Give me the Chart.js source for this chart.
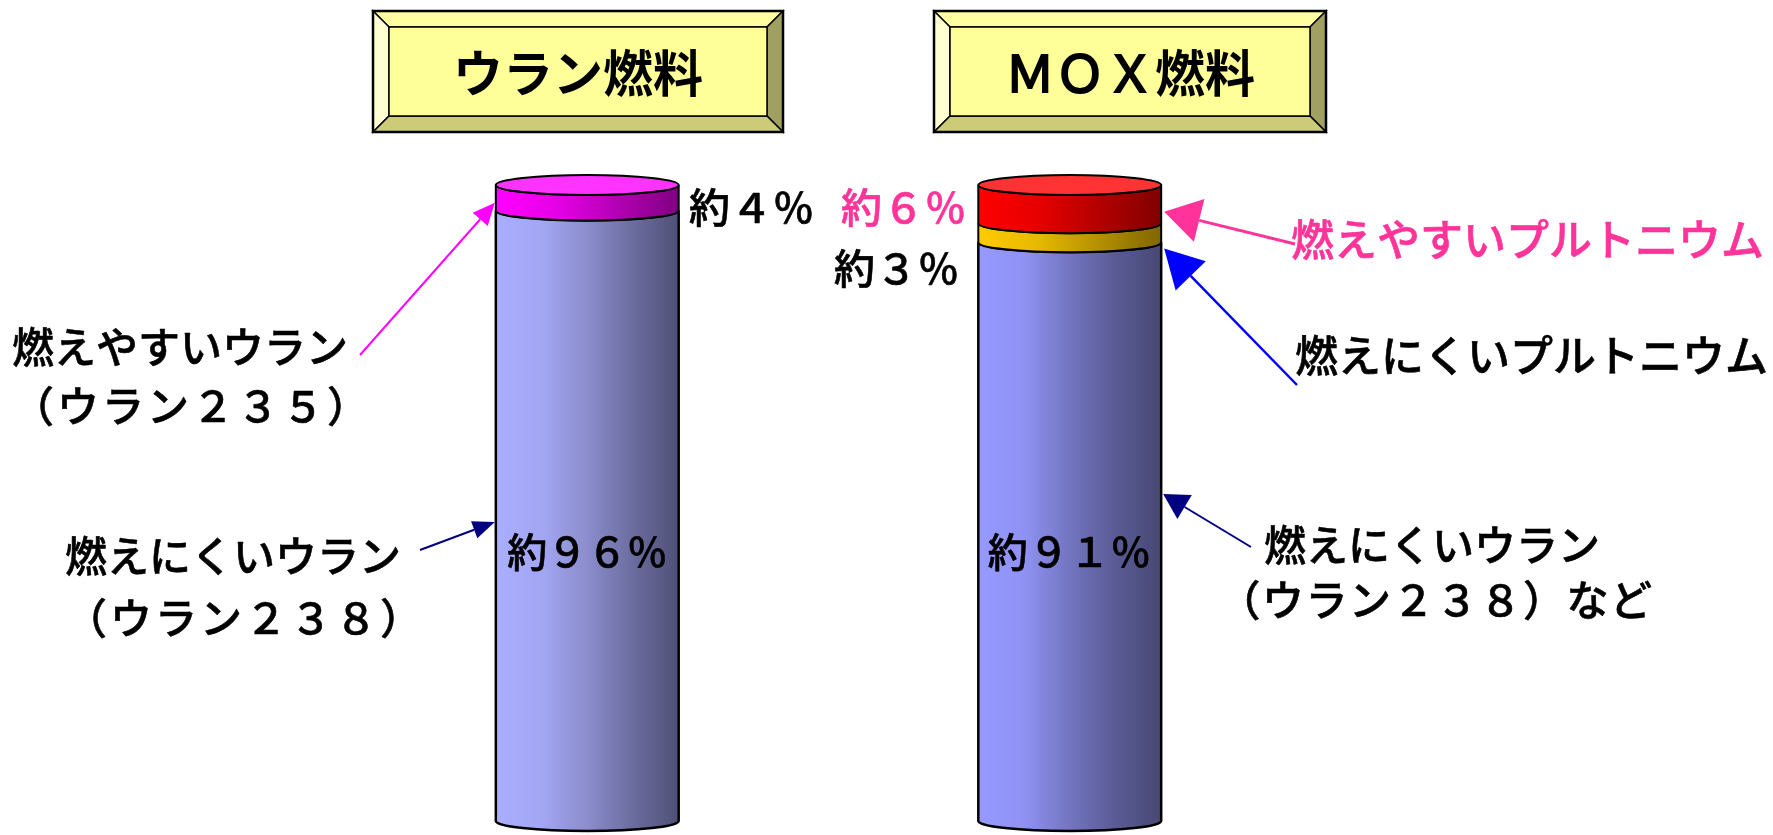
<!DOCTYPE html>
<html lang="ja">
<head>
<meta charset="UTF-8">
<title>ウラン燃料とMOX燃料</title>
<script src="https://cdn.jsdelivr.net/npm/chart.js"></script>
<style>
  body { margin: 0; background: #fff; }
  .chart-wrapper { position: relative; width: 1773px; height: 835px; }
</style>
</head>
<body>
<div class="chart-wrapper"><canvas id="fuelChart"></canvas></div>
<script>
// data
const fuels = ['ウラン燃料', 'ＭＯＸ燃料'];
const hardUranium = [96, 91];   // 燃えにくいウラン（ウラン２３８）
const hardPlutonium = [0, 3];   // 燃えにくいプルトニウム
const fissile = [4, 6];         // 燃えやすいウラン / 燃えやすいプルトニウム

const JP = '"Noto Sans CJK JP", "Noto Sans", sans-serif';
const RY = 10; // ellipse half height of the cylinders

function fullWidth(n) {
    return String(n).replace(/[0-9]/g, d => String.fromCharCode(d.charCodeAt(0) + 0xFEE0));
}
function approx(n) { return '約' + fullWidth(n) + '％'; }

// draws each stack as a shaded cylinder using the bar elements' geometry
const cylinderPlugin = {
    id: 'cylinders',
    afterDatasetsDraw(chart) {
        const ctx = chart.ctx;
        ctx.save();
        chart.data.labels.forEach((lbl, i) => {
            let topY = null, topColor = null, cx = 0, rx = 0;
            chart.data.datasets.forEach((ds, d) => {
                if (!ds.data[i]) return;
                const bar = chart.getDatasetMeta(d).data[i];
                cx = bar.x; rx = bar.width / 2;
                const yTop = bar.y, yBot = bar.base;
                const g = ctx.createLinearGradient(cx - rx, 0, cx + rx, 0);
                const stops = ds.sideColors[i];
                stops.forEach((c, k) => g.addColorStop(k / (stops.length - 1), c));
                ctx.beginPath();
                ctx.moveTo(cx - rx, yTop);
                ctx.lineTo(cx - rx, yBot);
                ctx.ellipse(cx, yBot, rx, RY, 0, Math.PI, 0, true);
                ctx.lineTo(cx + rx, yTop);
                ctx.ellipse(cx, yTop, rx, RY, 0, 0, Math.PI, false);
                ctx.closePath();
                ctx.fillStyle = g;
                ctx.fill();
                ctx.lineWidth = d === 0 ? 2.5 : 2;
                ctx.strokeStyle = '#000';
                ctx.stroke();
                topY = yTop; topColor = ds.topColors[i];
            });
            ctx.beginPath();
            ctx.ellipse(cx, topY, rx, RY, 0, 0, Math.PI * 2);
            ctx.fillStyle = topColor;
            ctx.fill();
            ctx.lineWidth = 2;
            ctx.stroke();
        });
        ctx.restore();
    }
};

function bevelBox(ctx, x, y, w, h, b, text) {
    const xi = x + b, yi = y + b, xr = x + w - b, yb = y + h - b;
    const faces = [
        ['#ffffa0', [[x, y], [x + w, y], [xr, yi], [xi, yi]]],
        ['#ffffd2', [[x, y], [xi, yi], [xi, yb], [x, y + h]]],
        ['#a0a062', [[x + w, y], [x + w, y + h], [xr, yb], [xr, yi]]],
        ['#cccc78', [[x, y + h], [xi, yb], [xr, yb], [x + w, y + h]]]
    ];
    ctx.lineWidth = 1.5;
    ctx.strokeStyle = '#000';
    faces.forEach(([col, pts]) => {
        ctx.beginPath();
        pts.forEach((p, k) => k ? ctx.lineTo(p[0], p[1]) : ctx.moveTo(p[0], p[1]));
        ctx.closePath();
        ctx.fillStyle = col;
        ctx.fill();
        ctx.stroke();
    });
    ctx.fillStyle = '#ffff99';
    ctx.fillRect(xi, yi, xr - xi, yb - yi);
    ctx.strokeRect(xi, yi, xr - xi, yb - yi);
    ctx.lineWidth = 2.5;
    ctx.strokeRect(x, y, w, h);

    // latin part (ＭＯＸ) is set in a lighter weight than the kanji
    const m = text.match(/^[Ａ-Ｚ]+/);
    const head = m ? m[0] : '';
    const tail = text.slice(head.length);
    const fHead = '400 50px ' + JP, fTail = 'bold 50px ' + JP;
    ctx.font = fHead;
    const wHead = ctx.measureText(head).width;
    ctx.font = fTail;
    const wTail = ctx.measureText(tail).width;
    let tx = x + w / 2 - (wHead + wTail) / 2;
    const ty = y + h / 2 + 1;
    ctx.fillStyle = '#000';
    ctx.strokeStyle = '#000';
    ctx.textAlign = 'left';
    ctx.textBaseline = 'middle';
    if (head) {
        ctx.font = fHead;
        ctx.fillText(head, tx, ty);
        ctx.lineWidth = 2;
        ctx.strokeText(head, tx, ty);
        tx += wHead;
    }
    ctx.font = fTail;
    ctx.fillText(tail, tx, ty);
}

function arrow(ctx, x1, y1, x2, y2, color, len, wid, lw) {
    const a = Math.atan2(y2 - y1, x2 - x1);
    const bx = x2 - len * Math.cos(a), by = y2 - len * Math.sin(a);
    ctx.strokeStyle = color;
    ctx.lineWidth = lw;
    ctx.beginPath();
    ctx.moveTo(x1, y1);
    ctx.lineTo(bx, by);
    ctx.stroke();
    ctx.beginPath();
    ctx.moveTo(x2, y2);
    ctx.lineTo(bx + wid / 2 * Math.sin(a), by - wid / 2 * Math.cos(a));
    ctx.lineTo(bx - wid / 2 * Math.sin(a), by + wid / 2 * Math.cos(a));
    ctx.closePath();
    ctx.fillStyle = color;
    ctx.fill();
}

function label(ctx, text, x, y, color, size, align, spacing) {
    ctx.fillStyle = color;
    ctx.strokeStyle = color;
    ctx.lineWidth = 0.6;
    ctx.lineJoin = 'round';
    ctx.font = '500 ' + (size || 42) + 'px ' + JP;
    ctx.textAlign = align || 'left';
    ctx.textBaseline = 'middle';
    ctx.letterSpacing = (spacing || 0) + 'px';
    ctx.fillText(text, x, y);
    ctx.strokeText(text, x, y);
    ctx.letterSpacing = '0px';
}

const annotationPlugin = {
    id: 'fuelNotes',
    afterDraw(chart) {
        const ctx = chart.ctx;
        const y = chart.scales.y;
        const uBar = chart.getDatasetMeta(0).data[0];
        const mBar = chart.getDatasetMeta(0).data[1];
        const uLeft = uBar.x - uBar.width / 2;
        const mRight = mBar.x + mBar.width / 2;
        ctx.save();

        bevelBox(ctx, 373, 11, 410, 121, 16, fuels[0]);
        bevelBox(ctx, 934, 11, 392, 121, 16, fuels[1]);

        // uranium fuel
        label(ctx, approx(fissile[0]), 689, 207, '#000', 41, 'left', 1);
        label(ctx, approx(hardUranium[0]), uBar.x, 552, '#000', 40, 'center');
        label(ctx, '燃えやすいウラン', 12, 347, '#000', 42);
        label(ctx, '（ウラン２３５）', 12, 406, '#000', 42, 'left', 3);
        label(ctx, '燃えにくいウラン', 65, 556, '#000', 42);
        label(ctx, '（ウラン２３８）', 65, 618, '#000', 42, 'left', 3);
        arrow(ctx, 360, 355, uLeft - 1, y.getPixelForValue(97.2), '#ff00ff', 22, 20, 2);
        arrow(ctx, 420, 550, uLeft - 1, y.getPixelForValue(47), '#000080', 22, 18, 2);

        // MOX fuel
        label(ctx, approx(fissile[1]), 841, 207, '#ff3399', 41, 'left', 1);
        label(ctx, approx(hardPlutonium[1]), 834, 268, '#000', 41, 'left', 1);
        label(ctx, approx(hardUranium[1]), mBar.x, 552, '#000', 40, 'center', 1);
        label(ctx, '燃えやすいプルトニウム', 1291, 240, '#ff3399', 43);
        label(ctx, '燃えにくいプルトニウム', 1295, 356, '#000', 43);
        label(ctx, '燃えにくいウラン', 1432, 545, '#000', 42, 'center');
        label(ctx, '（ウラン２３８）など', 1436, 600, '#000', 42, 'center', 1.5);
        arrow(ctx, 1295, 244, mRight + 3, y.getPixelForValue(95.8), '#ff3399', 36, 44, 3);
        arrow(ctx, 1297, 385, mRight + 3, y.getPixelForValue(90), '#0000ff', 38, 42, 2.5);
        arrow(ctx, 1251, 547, mRight + 2, y.getPixelForValue(51.4), '#000080', 25, 28, 2);

        ctx.restore();
    }
};

const clear = 'rgba(0,0,0,0)';

new Chart(document.getElementById('fuelChart'), {
    type: 'bar',
    data: {
        labels: fuels,
        datasets: [
            {
                label: '燃えにくいウラン',
                data: hardUranium,
                sideColors: [
                    ['#aaaeff', '#a3a6f3', '#8b8dcc', '#6b6c9f', '#4f5077'],
                    ['#9699ff', '#8f92f2', '#7375c0', '#5a5b95', '#474873']
                ],
                topColors: ['#c0c2ff', '#b0b2ff']
            },
            {
                label: '燃えにくいプルトニウム',
                data: hardPlutonium,
                sideColors: [
                    ['#ffcc00', '#806600'],
                    ['#ffcc00', '#e6b800', '#b38f00', '#7f6600']
                ],
                topColors: ['#ffdd55', '#ffdd55']
            },
            {
                label: '燃えやすい核分裂性物質',
                data: fissile,
                sideColors: [
                    ['#ff00ff', '#e600e6', '#b300b3', '#800080'],
                    ['#ff0000', '#e60000', '#b30000', '#800000']
                ],
                topColors: ['#ff33ff', '#ff3333']
            }
        ].map(ds => Object.assign(ds, {
            backgroundColor: clear,
            borderWidth: 0,
            categoryPercentage: 1,
            barPercentage: 0.379
        }))
    },
    options: {
        responsive: true,
        maintainAspectRatio: false,
        animation: false,
        events: [],
        layout: { padding: { left: 346, right: 462, top: 185, bottom: 14 } },
        plugins: {
            legend: { display: false },
            tooltip: { enabled: false }
        },
        scales: {
            x: { stacked: true, display: false },
            y: { stacked: true, display: false, min: 0, max: 100 }
        }
    },
    plugins: [cylinderPlugin, annotationPlugin]
});
</script>
</body>
</html>
